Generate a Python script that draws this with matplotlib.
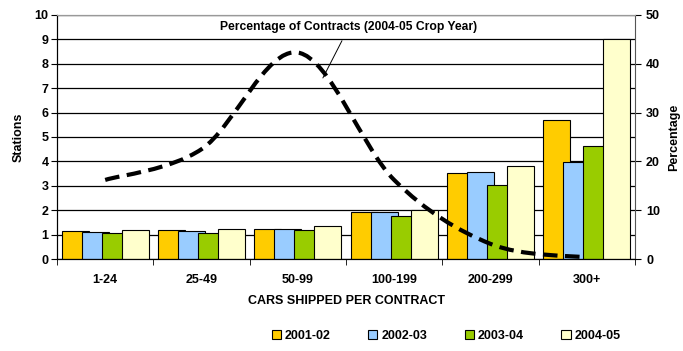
import matplotlib
matplotlib.use("Agg")
import matplotlib.pyplot as plt
import matplotlib.patches
import matplotlib.path
import numpy

plt.rcParams["font.family"] = ["Liberation Sans", "DejaVu Sans"]
plt.rcParams["font.weight"] = "bold"
plt.rcParams["font.size"] = 9

categories = ["1-24", "25-49", "50-99", "100-199", "200-299", "300+"]
years = ["2001-02", "2002-03", "2003-04", "2004-05"]
stations_0102 = [1.16, 1.19, 1.24, 1.94, 3.54, 5.68]
stations_0203 = [1.12, 1.14, 1.23, 1.94, 3.58, 3.99]
stations_0304 = [1.08, 1.08, 1.17, 1.78, 3.02, 4.64]
stations_0405 = [1.20, 1.24, 1.37, 2.00, 3.81, 9.00]
pct_contracts = [16.2, 22.5, 42.3, 16.2, 3.1, 0.3]

colors = ["#FFCC00", "#99CCFF", "#99CC00", "#FFFFCC"]


def smooth_path(xs, ys):
    # bezier through the points with Catmull-Rom tangents (a "smoothed line")
    pts = numpy.column_stack([xs, ys]).astype(float)
    n = len(pts)
    verts = [pts[0]]
    codes = [matplotlib.path.Path.MOVETO]
    for i in range(n - 1):
        p0 = pts[max(i - 1, 0)]
        p1 = pts[i]
        p2 = pts[i + 1]
        p3 = pts[min(i + 2, n - 1)]
        c1 = p1 + (p2 - p0) / 6.0
        c2 = p2 - (p3 - p1) / 6.0
        verts += [c1, c2, p2]
        codes += [matplotlib.path.Path.CURVE4] * 3
    return matplotlib.path.Path(verts, codes)


fig = plt.figure(figsize=(6.83, 3.51), dpi=100)
ax = fig.add_axes([0.0835, 0.2621, 0.8462, 0.6952])

x = numpy.arange(len(categories))
step = 0.208
width = 0.28
series = [stations_0102, stations_0203, stations_0304, stations_0405]
for i, (vals, col, lab) in enumerate(zip(series, colors, years)):
    ax.bar(x + (i - 1.5) * step, vals, width=width, color=col,
           edgecolor="black", linewidth=0.8, label=lab, zorder=2)

ax.set_xlim(-0.5, len(categories) - 0.5)
ax.set_ylim(0, 10)
ax.set_yticks(range(0, 11))
ax.yaxis.grid(True, color="black", linewidth=0.9, zorder=0)
ax.set_axisbelow(True)
ax.set_xticks(x)
ax.set_xticklabels(categories)
ax.set_xticks(numpy.arange(-0.5, len(categories)), minor=True)
ax.tick_params(axis="x", which="major", length=0, pad=11)
ax.tick_params(axis="x", which="minor", length=4, direction="out")
ax.tick_params(axis="y", length=4, direction="out", pad=2)
ax.set_ylabel("Stations", fontweight="bold", labelpad=7)
ax.set_xlabel("CARS SHIPPED PER CONTRACT", fontweight="bold", labelpad=6)
ax.spines["top"].set_color("#999999")
ax.spines["right"].set_visible(False)

ax2 = ax.twinx()
ax2.set_ylim(0, 50)
ax2.set_yticks(range(0, 51, 10))
ax2.tick_params(axis="y", length=4, direction="out", pad=4)
ax2.set_ylabel("Percentage", fontweight="bold", labelpad=6)
ax2.spines["right"].set_color("#555555")
ax2.spines["top"].set_color("#999999")
ax2.add_patch(matplotlib.patches.PathPatch(
    smooth_path(x, pct_contracts), fill=False, edgecolor="black",
    linewidth=3, linestyle=(0, (3.5, 1.8)), capstyle="butt", zorder=5))

ax2.annotate("Percentage of Contracts (2004-05 Crop Year)",
             xy=(2.26, 37.1), xycoords="data",
             xytext=(349 / 683, 1 - 27 / 351), textcoords="figure fraction",
             ha="center", va="center", fontsize=8.7, fontweight="bold",
             arrowprops=dict(arrowstyle="-", color="black", lw=0.7,
                             shrinkA=4, shrinkB=0))

handles, labels = ax.get_legend_handles_labels()
fig.legend(handles, labels, loc="center", ncol=4,
           bbox_to_anchor=(446 / 683, 15 / 351), frameon=False,
           handlelength=0.75, handleheight=0.75, handletextpad=0.3,
           columnspacing=3.0, fontsize=9)

fig.savefig("out.png", dpi=100)
